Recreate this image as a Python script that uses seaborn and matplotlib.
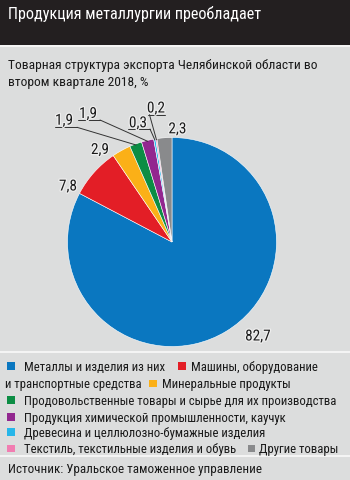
import numpy as np
import pandas as pd
import seaborn as sns
import matplotlib
matplotlib.use("Agg")
import matplotlib.pyplot as plt
from matplotlib.patches import Rectangle
from matplotlib.lines import Line2D
import matplotlib.patheffects as pe
from matplotlib import font_manager

# ---------------- data ----------------
categories = [
    "Металлы и изделия из них",
    "Машины, оборудование и транспортные средства",
    "Минеральные продукты",
    "Продовольственные товары и сырье для их производства",
    "Продукция химической промышленности, каучук",
    "Древесина и целлюлозно-бумажные изделия",
    "Текстиль, текстильные изделия и обувь",
    "Другие товары",
]
values = [82.7, 7.8, 2.9, 1.9, 1.9, 0.3, 0.2, 2.3]
value_labels = ["82,7", "7,8", "2,9", "1,9", "1,9", "0,3", "0,2", "2,3"]
colors = ["#0a77c0", "#e31e26", "#fbb017", "#0c8d44", "#92278f",
          "#27b6e9", "#f17db1", "#898a8c"]

title = "Продукция металлургии преобладает"
subtitle = ["Товарная структура экспорта Челябинской области во",
            "втором квартале 2018, %"]
source = "Источник: Уральское таможенное управление"

# ---------------- style ----------------
sns.set_style("white")
avail = {f.name for f in font_manager.fontManager.ttflist}
fam = [f for f in ["Roboto Condensed", "PT Sans Narrow", "Liberation Sans", "DejaVu Sans"]
       if f in avail]
plt.rcParams["font.family"] = fam

W, H = 350, 481
BG = "#dcdddd"
fig = plt.figure(figsize=(W / 100, H / 100), dpi=100, facecolor=BG)
renderer = fig.canvas.get_renderer()


def fx(x):
    return x / W


def fy(y):
    return 1 - y / H


def fit_size(s, width, weight="normal"):
    t = fig.text(0, 0, s, fontsize=10, fontweight=weight)
    w = t.get_window_extent(renderer).width
    t.remove()
    return 10 * width / w


# header band and separators
fig.add_artist(Rectangle((0, fy(46)), 1, 46 / H, transform=fig.transFigure,
                         facecolor="#231f20", edgecolor="none", zorder=0))
for yy in (47, 353, 457):
    fig.add_artist(Line2D([0, 1], [fy(yy), fy(yy)], transform=fig.transFigure,
                          color="#f5f5f5", lw=1.4, zorder=1))

# texts
ts = fit_size(title, 254)
fig.text(fx(8), fy(18.5), title, color="white", fontsize=ts, va="baseline", ha="left")
ss = fit_size(subtitle[0], 309)
fig.text(fx(8), fy(68.5), subtitle[0], color="#1a1a1a", fontsize=ss, va="baseline")
fig.text(fx(8), fy(86), subtitle[1], color="#1a1a1a", fontsize=ss, va="baseline")

# ---------------- pie ----------------
cx, cy, r = 172, 243, 104.5
ax = fig.add_axes([fx(cx - r), fy(cy + r), 2 * r / W, 2 * r / H])
wedges, _ = ax.pie(values, colors=colors, startangle=90, counterclock=False,
                   wedgeprops=dict(edgecolor="white", linewidth=0.4))
ax.set_xlim(-1, 1)
ax.set_ylim(-1, 1)
ax.axis("off")

# label layout (pixel positions, top-left origin): text centre x, baseline y,
# optional underline (x0, x1, y) and leader start x
label_layout = {
    0: dict(x=258, y=341.5),
    1: dict(x=68, y=191.5),
    2: dict(x=100, y=155),
    3: dict(x=64, y=125.7, ul=(55, 77, 128.3), start=77),
    4: dict(x=88, y=119, ul=(78, 100, 121), start=100),
    5: dict(x=138, y=128.3, ul=(128, 150, 130), start=150),
    6: dict(x=156, y=113.5, ul=(148, 165, 115.7), start=149.5),
    7: dict(x=177.5, y=134.3),
}

ls = ss * 1.13
stroke = [pe.withStroke(linewidth=1.8, foreground="#eeeeee")]
to_fig = fig.transFigure.inverted()
for i, w in enumerate(wedges):
    lay = label_layout[i]
    fig.text(fx(lay["x"]), fy(lay["y"]), value_labels[i], fontsize=ls,
             ha="center", va="baseline", color="#1a1a1a", path_effects=stroke,
             zorder=5)
    if "ul" in lay:
        x0, x1, yu = lay["ul"]
        mid = np.deg2rad((w.theta1 + w.theta2) / 2)
        disp = ax.transData.transform((np.cos(mid) * 0.99, np.sin(mid) * 0.99))
        ex, ey = to_fig.transform(disp)
        fig.add_artist(Line2D([fx(x0), fx(x1)], [fy(yu), fy(yu)],
                              transform=fig.transFigure, color="#333333", lw=0.7))
        fig.add_artist(Line2D([fx(lay["start"]), ex], [fy(yu), ey],
                              transform=fig.transFigure, color="#333333", lw=0.7))

# ---------------- legend ----------------
lg = fit_size(categories[3], 314.7)
legend_rows = [
    # (baseline y, [(kind, x, payload)])
    (371, [("sq", 7.3, 0), ("tx", 24, "Металлы и изделия из них"),
           ("sq", 178.3, 1), ("tx", 190.7, "Машины, оборудование")]),
    (388.3, [("tx", 5, "и транспортные средства"), ("sq", 149, 2),
             ("tx", 162.3, categories[2])]),
    (405, [("sq", 7.3, 3), ("tx", 24, categories[3])]),
    (421.7, [("sq", 7.3, 4), ("tx", 24, categories[4])]),
    (437, [("sq", 7.3, 5), ("tx", 24, categories[5])]),
    (453.3, [("sq", 7.3, 6), ("tx", 24, categories[6]),
             ("sq", 247.7, 7), ("tx", 259.3, categories[7])]),
]
for yb, items in legend_rows:
    for kind, x, p in items:
        if kind == "sq":
            fig.add_artist(Rectangle((fx(x), fy(yb)), 7.7 / W, 7.7 / H,
                                     transform=fig.transFigure,
                                     facecolor=colors[p], edgecolor="none"))
        else:
            fig.text(fx(x), fy(yb), p, fontsize=lg, va="baseline", color="#1a1a1a")

sc = fit_size(source, 251.7)
fig.text(fx(8.3), fy(473.3), source, fontsize=sc, va="baseline", color="#1a1a1a")

fig.savefig("out.png", dpi=100, facecolor=BG)
